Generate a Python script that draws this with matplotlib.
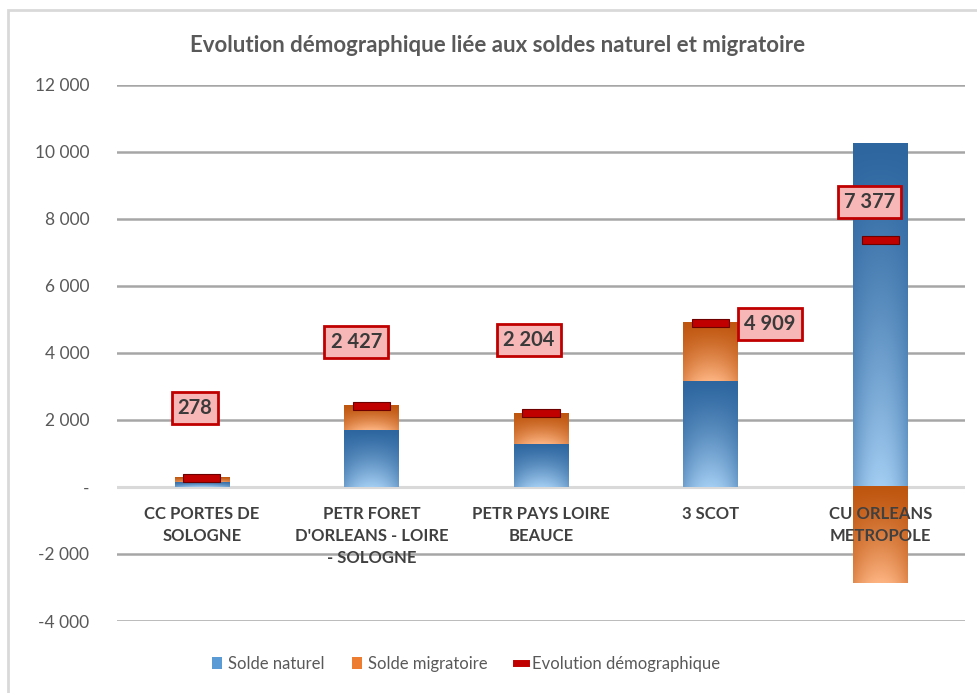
import matplotlib.pyplot as plt
import numpy as np
from matplotlib.patches import Patch, Rectangle
from matplotlib.lines import Line2D
from matplotlib.ticker import FuncFormatter

plt.rcParams['font.family'] = ['Lato', 'DejaVu Sans']

# donnees
categories = ["CC PORTES DE\nSOLOGNE", "PETR FORET\nD'ORLEANS - LOIRE\n- SOLOGNE",
              "PETR PAYS LOIRE\nBEAUCE", "3 SCOT", "CU ORLEANS\nMETROPOLE"]
solde_naturel = [150, 1700, 1290, 3150, 10250]
solde_migratoire = [128, 727, 914, 1759, -2873]
evolution = [278, 2427, 2204, 4909, 7377]

# position des etiquettes (decalage x en categories, hauteur y)
label_dx = [-0.04, -0.09, -0.07, 0.35, -0.065]
label_y = [2360, 4330, 4390, 4870, 8520]

grey = '#595959'
bw = 0.32


def fmt(v, pos=None):
    if v == 0:
        return '-'
    s = f"{abs(int(v)):,}".replace(',', ' ')
    return ('-' if v < 0 else '') + s


def grad_bar(ax, xc, y0, y1, dark, light):
    # degrade vertical + tache claire en bas au centre
    n, m = 120, 40
    t = np.linspace(0, 1, n)[:, None]
    u = np.linspace(-1, 1, m)[None, :]
    f = t ** 1.3 * (1 - 0.45 * u ** 2)
    f = np.clip(f, 0, 1)
    dark = np.array(plt.matplotlib.colors.to_rgb(dark))
    light = np.array(plt.matplotlib.colors.to_rgb(light))
    img = dark[None, None, :] + (light - dark)[None, None, :] * f[:, :, None]
    top, bot = max(y0, y1), min(y0, y1)
    ax.imshow(img, extent=[xc - bw / 2, xc + bw / 2, bot, top], origin='upper',
              aspect='auto', zorder=2, interpolation='bilinear')


fig = plt.figure(figsize=(9.77, 6.93), dpi=100)
ax = fig.add_axes([117 / 977, 1 - 621 / 693, (965 - 117) / 977, (621 - 85) / 693])

x = np.arange(len(categories))
for i in x:
    n = solde_naturel[i]
    m = solde_migratoire[i]
    grad_bar(ax, i, 0, n, '#2e67a0', '#a3cdf2')
    if m >= 0:
        grad_bar(ax, i, n, n + m, '#bf560f', '#fdb482')
    else:
        grad_bar(ax, i, 0, m, '#bf560f', '#fdb482')

# marqueurs evolution
ax.bar(x, 240, bottom=np.array(evolution) - 120, width=0.22, color='#c00000',
       edgecolor='#6e0000', linewidth=0.8, zorder=4)

# etiquettes valeurs
for i in x:
    ax.text(i + label_dx[i], label_y[i], fmt(evolution[i]), ha='center', va='center',
            fontsize=14.5, fontweight='bold', color='#3a3a3a', zorder=6,
            bbox=dict(boxstyle='square,pad=0.3', fc='#f7b7b7', ec='#c00000', lw=2))

# etiquettes categories
for i in x:
    ax.annotate(categories[i], (i, 0), xytext=(0, -14), textcoords='offset points',
                ha='center', va='top', fontsize=12, fontweight='bold', color='#404040',
                linespacing=1.45, zorder=6)

ax.set_xlim(-0.5, len(categories) - 0.5)
ax.set_ylim(-4000, 12000)
ax.set_yticks(np.arange(-4000, 12001, 2000))
ax.yaxis.set_major_formatter(FuncFormatter(fmt))
ax.tick_params(axis='y', length=0, pad=20, labelsize=12.5, labelcolor=grey)
ax.set_xticks([])
ax.grid(axis='y', color='#a6a6a6', lw=1.8, zorder=0)
ax.set_axisbelow(True)
ax.axhline(0, color='#d9d9d9', lw=2.2, zorder=1)
for s in ax.spines.values():
    s.set_visible(False)

fig.text(498 / 977, 1 - 45 / 693, "Evolution démographique liée aux soldes naturel et migratoire",
         ha='center', va='center', fontsize=16, fontweight='bold', color=grey)

handles = [Patch(facecolor='#5b9bd5'), Patch(facecolor='#ed7d31'),
           Line2D([], [], color='#c00000', lw=5)]
fig.legend(handles, ['Solde naturel', 'Solde migratoire', 'Evolution démographique'],
           loc='center', bbox_to_anchor=(466 / 977, 1 - 664 / 693), ncol=3, frameon=False,
           fontsize=12, labelcolor=grey, handlelength=0.6, handleheight=0.7,
           handletextpad=0.35, columnspacing=1.7)

fig.patches.append(Rectangle((8 / 977, -0.05), 1.2, 1 - 10 / 693 + 0.05, transform=fig.transFigure,
                             fill=False, ec='#d9d9d9', lw=2))

fig.savefig('out.png', dpi=100)
